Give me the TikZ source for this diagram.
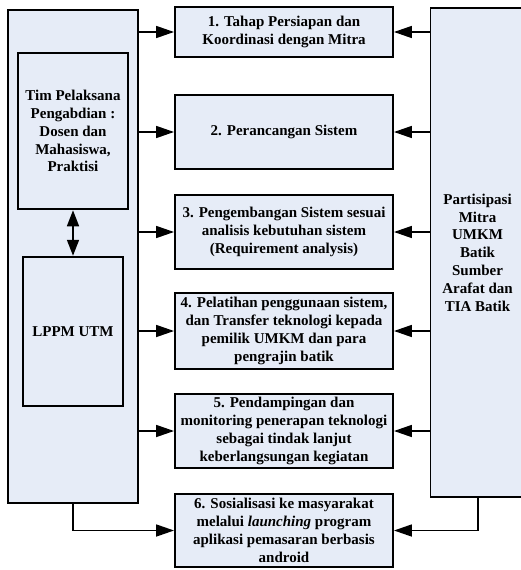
\documentclass[tikz,border=0pt]{standalone}
\usepackage{fontspec}
\setmainfont{Liberation Serif}
\usetikzlibrary{arrows.meta}
\definecolor{boxfill}{RGB}{230,236,247}
\tikzset{
  box/.style={draw=black, line width=1.9pt, fill=boxfill, align=center, inner sep=2pt,
    font=\bfseries\fontsize{15}{17.8}\selectfont},
  conn/.style={draw=black, line width=1.7pt, -{Triangle[length=18pt,width=12pt]}},
  dconn/.style={draw=black, line width=1.7pt, {Triangle[length=16pt,width=12pt]}-{Triangle[length=16pt,width=12pt]}}
}
\begin{document}
\begin{tikzpicture}[x=1pt,y=-1pt]
\useasboundingbox (0,0) rectangle (520,570);
% left column
\node[box, minimum width=129.7pt, minimum height=492.7pt] (L) at (73.2,256.4) {};
\node[box, minimum width=110pt, minimum height=156.3pt] (T) at (73,131.2)
  {Tim Pelaksana\\Pengabdian :\\Dosen dan\\Mahasiswa,\\Praktisi};
\node[box, minimum width=100.6pt, minimum height=149pt] (U) at (73,331.2) {LPPM UTM};
% right column
\node[box, minimum width=94pt, minimum height=489pt] (R) at (477.5,252.5)
  {Partisipasi\\Mitra\\UMKM\\Batik\\Sumber\\Arafat dan\\TIA Batik};
% middle steps
\node[box, minimum width=218pt, minimum height=50pt] (b1) at (284,32)
  {1. Tahap Persiapan dan\\Koordinasi dengan Mitra};
\node[box, minimum width=218pt, minimum height=74pt] (b2) at (284,132)
  {2. Perancangan Sistem};
\node[box, minimum width=218pt, minimum height=74pt] (b3) at (284,232)
  {3. Pengembangan Sistem sesuai\\analisis kebutuhan sistem\\(Requirement analysis)};
\node[box, minimum width=218pt, minimum height=76pt] (b4) at (284,331)
  {4. Pelatihan penggunaan sistem,\\dan Transfer teknologi kepada\\pemilik UMKM dan para\\pengrajin batik};
\node[box, minimum width=218pt, minimum height=74pt] (b5) at (284,431)
  {5. Pendampingan dan\\monitoring penerapan teknologi\\sebagai tindak lanjut\\keberlangsungan kegiatan};
\node[box, minimum width=218pt, minimum height=73pt] (b6) at (284,530.5)
  {6. Sosialisasi ke masyarakat\\melalui \textit{launching} program\\aplikasi pemasaran berbasis\\android};
% connectors
\foreach \b in {b1,b2,b3,b4,b5}{
  \draw[conn] (L.east |- \b.west) -- (\b.west);
  \draw[conn] (R.west |- \b.east) -- (\b.east);
}
\draw[conn] (L.south) |- (b6.west);
\draw[conn] ([xshift=0.8pt]R.south) |- (b6.east);
\draw[dconn] (T.south) -- (U.north);
\end{tikzpicture}
\end{document}
